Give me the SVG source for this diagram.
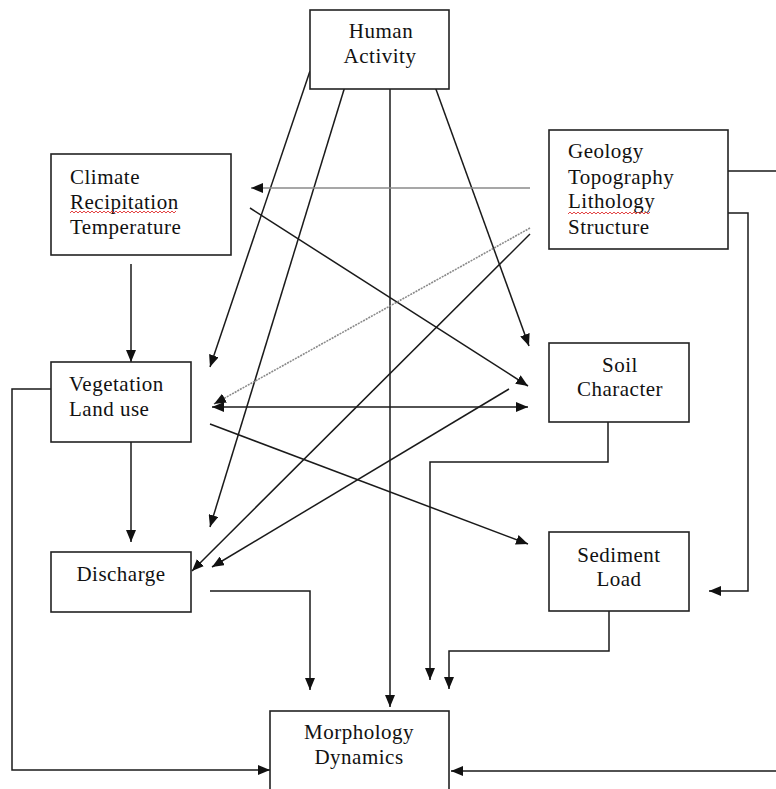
<svg xmlns="http://www.w3.org/2000/svg" width="776" height="789" viewBox="0 0 776 789">
<defs>
<marker id="ah" viewBox="0 0 12 10" refX="12" refY="5" markerWidth="12" markerHeight="10" markerUnits="userSpaceOnUse" orient="auto-start-reverse">
<path d="M0,0 L12,5 L0,10 z" fill="#111"/>
</marker>
<style>
.box{fill:#fff;stroke:#222;stroke-width:1.6}
.t{font-family:"Liberation Serif","Times New Roman",serif;font-size:21px;letter-spacing:0.5px;fill:#111}
.c{text-anchor:middle}
.ln{fill:none;stroke:#1a1a1a;stroke-width:1.5}
.gr{fill:none;stroke:#8a8a8a;stroke-width:1.3}
.dt{fill:none;stroke:#8a8a8a;stroke-width:1.6;stroke-dasharray:2 1}
.sq{fill:none;stroke:#e03030;stroke-width:0.9}
</style>
</defs>
<rect width="776" height="789" fill="#fff"/>

<g id="connectors">
<line class="ln" x1="310" y1="71" x2="210" y2="367" marker-end="url(#ah)"/>
<line class="ln" x1="350" y1="70" x2="210" y2="527" marker-end="url(#ah)"/>
<line class="ln" x1="390" y1="70" x2="390" y2="707" marker-end="url(#ah)"/>
<line class="ln" x1="429" y1="70" x2="529" y2="346" marker-end="url(#ah)"/>
<line class="gr" x1="530" y1="188" x2="251" y2="188" marker-end="url(#ah)"/>
<line class="ln" x1="250" y1="208" x2="528" y2="386" marker-end="url(#ah)"/>
<line class="dt" x1="530" y1="228" x2="214" y2="404" marker-end="url(#ah)"/>
<line class="ln" x1="530" y1="234" x2="192" y2="571" marker-end="url(#ah)"/>
<line class="ln" x1="509" y1="389" x2="212" y2="567" marker-end="url(#ah)"/>
<line class="ln" x1="212" y1="407" x2="528" y2="407" marker-start="url(#ah)" marker-end="url(#ah)"/>
<line class="ln" x1="210" y1="424" x2="528" y2="544" marker-end="url(#ah)"/>
<line class="ln" x1="131" y1="264" x2="131" y2="362" marker-end="url(#ah)"/>
<line class="ln" x1="131" y1="442" x2="131" y2="542" marker-end="url(#ah)"/>
<path class="ln" d="M51,389 H12 V770 H270" marker-end="url(#ah)"/>
<path class="ln" d="M210,591 H310 V690" marker-end="url(#ah)"/>
<path class="ln" d="M608,422 V462 H430 V680" marker-end="url(#ah)"/>
<path class="ln" d="M609,611 V651 H449 V689" marker-end="url(#ah)"/>
<path class="ln" d="M728,171 H782 V771 H451" marker-end="url(#ah)"/>
<path class="ln" d="M728,213 H748 V591 H709" marker-end="url(#ah)"/>
</g>

<g id="human-activity">
<rect class="box" x="310" y="10" width="139" height="79"/>
<text class="t c" x="381" y="38">Human</text>
<text class="t c" x="380" y="63">Activity</text>
</g>

<g id="geology">
<rect class="box" x="549" y="130" width="179" height="119"/>
<text class="t" x="568" y="158">Geology</text>
<text class="t" x="568" y="184">Topography</text>
<text class="t" x="568" y="208">Lithology</text>
<text class="t" x="568" y="234">Structure</text>
<path class="sq" d="M568,214 l2,-2 l2,2 l2,-2 l2,2 l2,-2 l2,2 l2,-2 l2,2 l2,-2 l2,2 l2,-2 l2,2 l2,-2 l2,2 l2,-2 l2,2 l2,-2 l2,2 l2,-2 l2,2 l2,-2 l2,2 l2,-2 l2,2 l2,-2 l2,2 l2,-2 l2,2 l2,-2 l2,2 l2,-2 l2,2 l2,-2 l2,2 l2,-2 l2,2 l2,-2 l2,2 l2,-2 l2,2 l2,-2"/>
</g>

<g id="climate">
<rect class="box" x="51" y="154" width="180" height="101"/>
<text class="t" x="70" y="184">Climate</text>
<text class="t" x="70" y="209">Recipitation</text>
<text class="t" x="70" y="234">Temperature</text>
<path class="sq" d="M70,213 l2,-2 l2,2 l2,-2 l2,2 l2,-2 l2,2 l2,-2 l2,2 l2,-2 l2,2 l2,-2 l2,2 l2,-2 l2,2 l2,-2 l2,2 l2,-2 l2,2 l2,-2 l2,2 l2,-2 l2,2 l2,-2 l2,2 l2,-2 l2,2 l2,-2 l2,2 l2,-2 l2,2 l2,-2 l2,2 l2,-2 l2,2 l2,-2 l2,2 l2,-2 l2,2 l2,-2 l2,2 l2,-2 l2,2 l2,-2 l2,2 l2,-2 l2,2 l2,-2 l2,2 l2,-2 l2,2 l2,-2 l2,2 l2,-2"/>
</g>

<g id="vegetation">
<rect class="box" x="51" y="362" width="140" height="80"/>
<text class="t" x="69" y="391">Vegetation</text>
<text class="t" x="69" y="416">Land use</text>
</g>

<g id="soil">
<rect class="box" x="549" y="343" width="140" height="79"/>
<text class="t c" x="620" y="372">Soil</text>
<text class="t c" x="620" y="396">Character</text>
</g>

<g id="discharge">
<rect class="box" x="51" y="552" width="140" height="60"/>
<text class="t c" x="121" y="581">Discharge</text>
</g>

<g id="sediment">
<rect class="box" x="549" y="532" width="140" height="79"/>
<text class="t c" x="619" y="562">Sediment</text>
<text class="t c" x="619" y="586">Load</text>
</g>

<g id="morphology">
<rect class="box" x="270" y="711" width="179" height="100"/>
<text class="t c" x="359" y="739">Morphology</text>
<text class="t c" x="359" y="764">Dynamics</text>
</g>
</svg>
